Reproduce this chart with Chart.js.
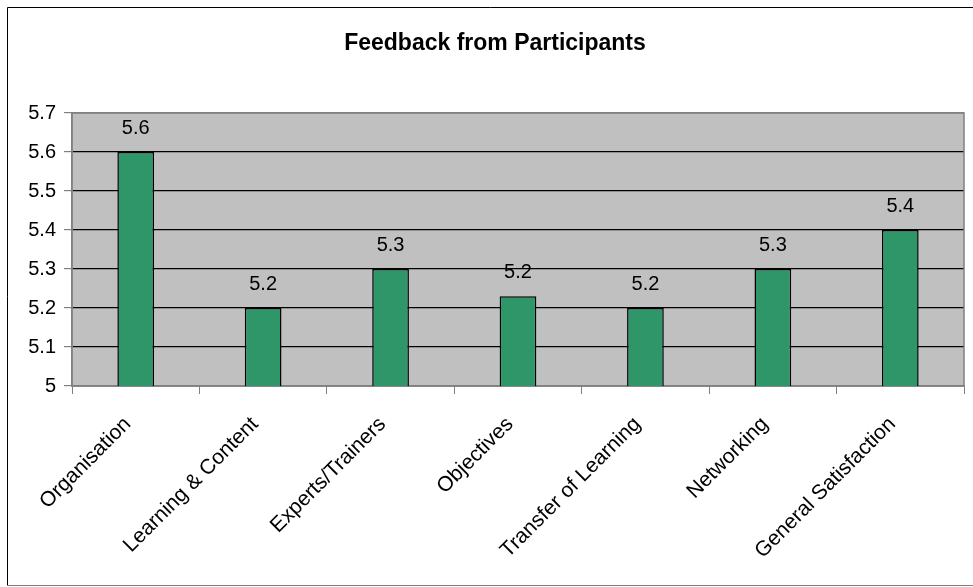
<!DOCTYPE html>
<html lang="en">
<head>
  <meta charset="UTF-8" />
  <title>Feedback from Participants</title>
  <script src="https://cdn.jsdelivr.net/npm/chart.js"></script>
  <style>
    body {
      margin: 0;
      background: #ffffff;
    }
    #wrap {
      position: relative;
      width: 973px;
      height: 587px;
    }
  </style>
</head>
<body>
  <div id="wrap">
    <canvas id="feedback-chart" width="973" height="587"></canvas>
  </div>

  <script>
    const TITLE = "Feedback from Participants";
    const CATEGORIES = [
      "Organisation",
      "Learning & Content",
      "Experts/Trainers",
      "Objectives",
      "Transfer of Learning",
      "Networking",
      "General Satisfaction"
    ];
    const SCORES = [5.6, 5.2, 5.3, 5.23, 5.2, 5.3, 5.4];
    const Y_MIN = 5;
    const Y_MAX = 5.7;
    const Y_STEP = 0.1;

    const FONT = "'Liberation Sans', Arial, sans-serif";

    // fond blanc, cadre, titre, fond gris de la zone du graphique
    const framePlugin = {
      id: "frame",
      beforeDraw(chart) {
        const { ctx, chartArea } = chart;
        ctx.save();
        ctx.fillStyle = "#ffffff";
        ctx.fillRect(0, 0, chart.width, chart.height);
        ctx.strokeStyle = "#000000";
        ctx.lineWidth = 1;
        ctx.beginPath();
        ctx.moveTo(7.5, 586);
        ctx.lineTo(7.5, 7.5);
        ctx.lineTo(chart.width, 7.5);
        ctx.stroke();
        ctx.strokeStyle = "#808080";
        ctx.beginPath();
        ctx.moveTo(7, 585.5);
        ctx.lineTo(chart.width, 585.5);
        ctx.stroke();
        ctx.fillStyle = "#c0c0c0";
        ctx.fillRect(chartArea.left, chartArea.top, chartArea.right - chartArea.left, chartArea.bottom - chartArea.top);

        ctx.fillStyle = "#000000";
        ctx.font = "bold 23px " + FONT;
        ctx.textAlign = "center";
        ctx.textBaseline = "middle";
        ctx.fillText(TITLE, 495, 44);
        ctx.restore();
      },
      beforeDatasetsDraw(chart) {
        const { ctx, chartArea } = chart;
        ctx.save();
        ctx.strokeStyle = "#808080";
        ctx.lineWidth = 1.5;
        ctx.strokeRect(chartArea.left, chartArea.top, chartArea.right - chartArea.left, chartArea.bottom - chartArea.top);
        ctx.restore();
      }
    };

    // valeurs au-dessus des barres
    const valueLabels = {
      id: "valueLabels",
      afterDatasetsDraw(chart) {
        const { ctx } = chart;
        const meta = chart.getDatasetMeta(0);
        ctx.save();
        ctx.font = "20px " + FONT;
        ctx.fillStyle = "#000000";
        ctx.textAlign = "center";
        ctx.textBaseline = "middle";
        meta.data.forEach((bar, i) => {
          ctx.fillText(SCORES[i].toFixed(1), bar.x, bar.y - 24);
        });
        ctx.restore();
      }
    };

    const ctx = document.getElementById("feedback-chart").getContext("2d");

    new Chart(ctx, {
      type: "bar",
      data: {
        labels: CATEGORIES,
        datasets: [{
          data: SCORES,
          backgroundColor: "#2e9668",
          borderColor: "#000000",
          borderWidth: 1.5,
          borderSkipped: false,
          barPercentage: 0.9,
          categoryPercentage: 0.32
        }]
      },
      options: {
        responsive: false,
        animation: false,
        layout: {
          padding: { left: 0, right: 9, top: 113, bottom: 0 }
        },
        plugins: {
          legend: { display: false },
          tooltip: { enabled: false },
          title: { display: false }
        },
        scales: {
          x: {
            offset: true,
            grid: {
              offset: true,
              drawOnChartArea: false,
              color: "#808080",
              tickLength: 8
            },
            border: { color: "#808080", width: 1.5 },
            ticks: {
              color: "#000000",
              font: { family: FONT, size: 21 },
              minRotation: 45,
              maxRotation: 45,
              autoSkip: false,
              padding: 18,
              labelOffset: -8
            },
            afterFit(scale) {
              scale.height = 201;
            }
          },
          y: {
            min: Y_MIN,
            max: Y_MAX,
            grid: {
              color: c => (c.tick && Math.abs(c.tick.value - Y_MAX) < 1e-6) ? "#808080" : "#000000",
              tickColor: "#808080",
              tickLength: 8,
              lineWidth: 1.2
            },
            border: { color: "#808080", width: 1.5 },
            ticks: {
              stepSize: Y_STEP,
              color: "#000000",
              font: { family: FONT, size: 20 },
              padding: 8,
              callback: v => Math.abs(v - 5) < 1e-6 ? "5" : v.toFixed(1)
            },
            afterFit(scale) {
              scale.width = 72;
            }
          }
        }
      },
      plugins: [framePlugin, valueLabels]
    });
  </script>
</body>
</html>
